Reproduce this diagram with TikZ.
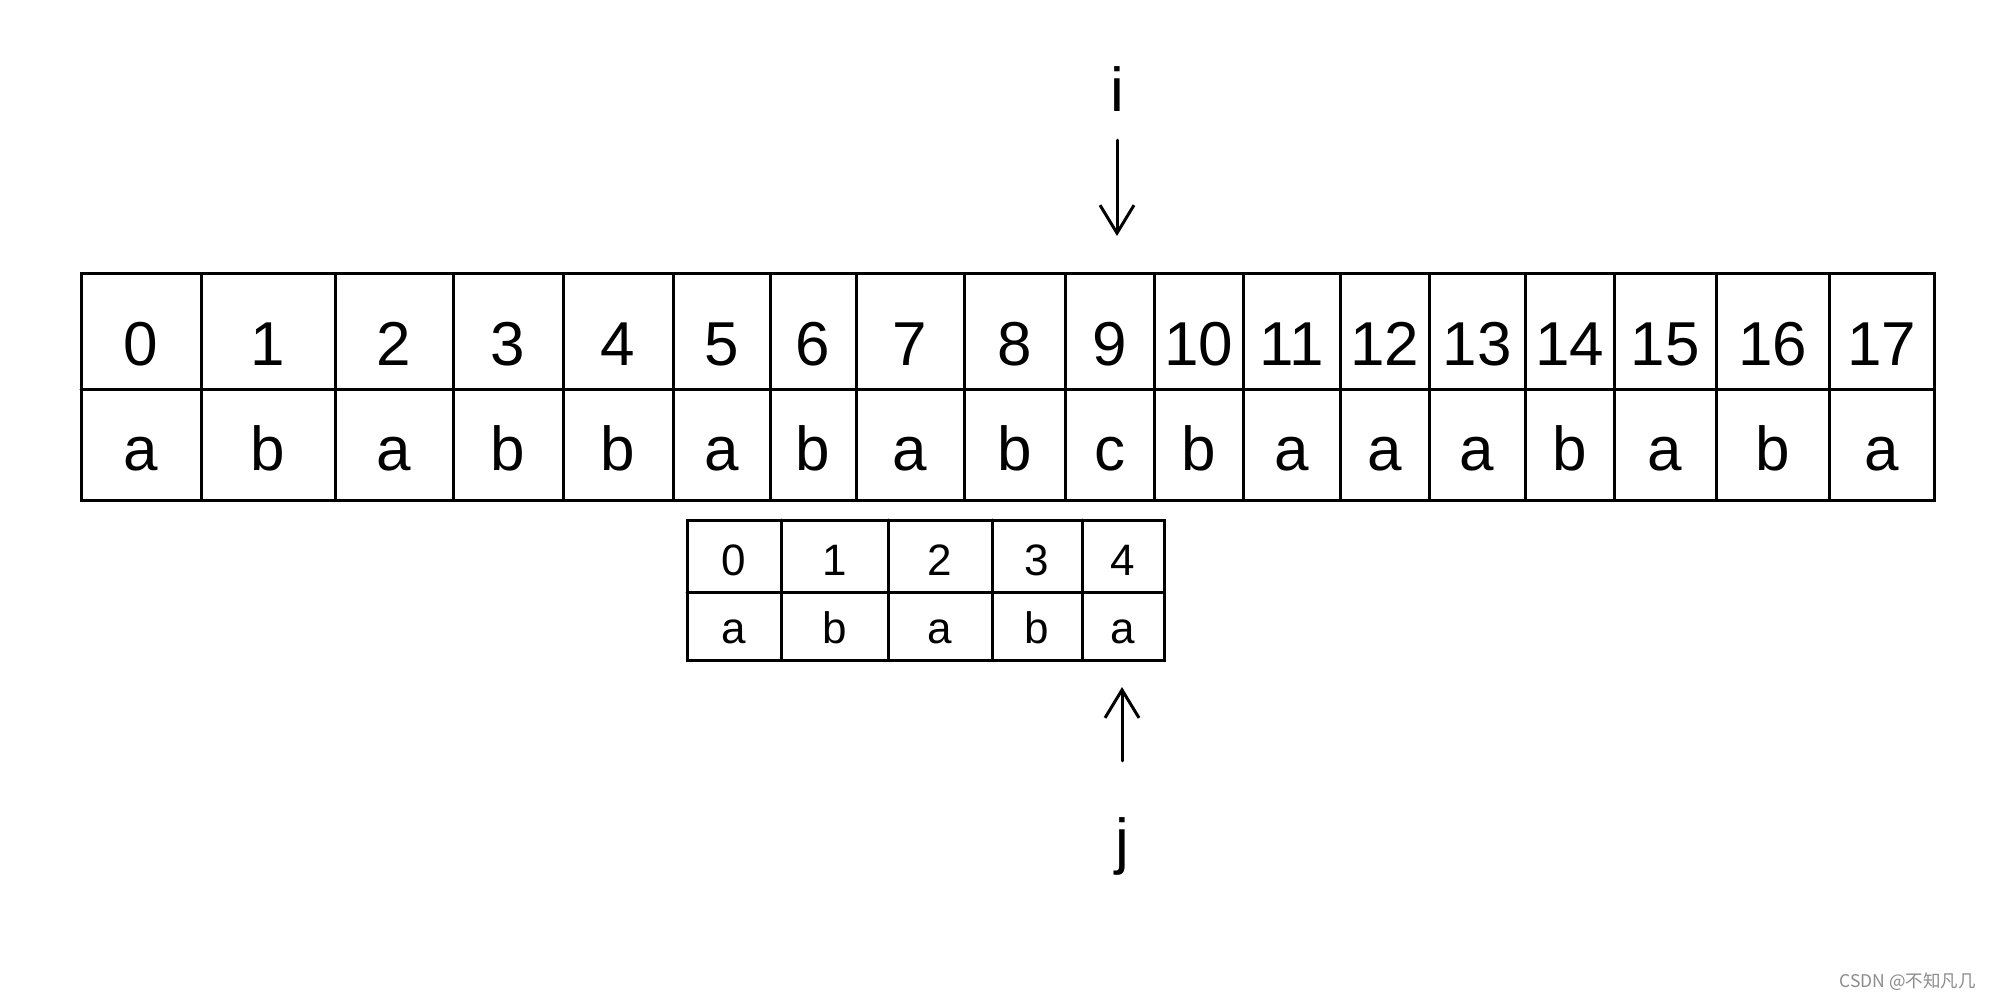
\documentclass[tikz,border=0pt]{standalone}
\usepackage{fontspec}
\setmainfont{Liberation Sans}
\newfontfamily\cjkfont{Noto Sans CJK SC}
\usetikzlibrary{arrows.meta}
\begin{document}
\begin{tikzpicture}[x=1pt,y=-1pt,
  gridline/.style={line width=3pt, line cap=round},
  bigtxt/.style={font=\fontsize{62}{62}\selectfont, inner sep=0pt, anchor=base},
  smalltxt/.style={font=\fontsize{44}{44}\selectfont, inner sep=0pt, anchor=base},
  ptr/.style={line width=3pt, line cap=round, -{Straight Barb[length=28pt,width=34pt,line width=3pt]}},
  wmark/.style={text=black!45, font=\cjkfont\fontsize{17.5}{17.5}\selectfont, inner sep=0pt}
]
\useasboundingbox[fill=white] (0,0) rectangle (1991,1000);

% main table
\draw[gridline] (81,274) rectangle (1934,500);
\draw[gridline] (81,389) -- (1934,389);
\foreach \x in {201,335,453,563,673,770,856,964,1065,1154,1243,1340,1429,1525,1614,1716,1829}
  \draw[gridline] (\x,274) -- (\x,500);
\foreach \l/\r/\n/\c in {81/201/0/a, 201/335/1/b, 335/453/2/a, 453/563/3/b, 563/673/4/b,
  673/770/5/a, 770/856/6/b, 856/964/7/a, 964/1065/8/b, 1065/1154/9/c, 1154/1243/10/b,
  1243/1340/11/a, 1340/1429/12/a, 1429/1525/13/a, 1525/1614/14/b, 1614/1716/15/a,
  1716/1829/16/b, 1829/1934/17/a}{
  \node[bigtxt] (ti\n) at ({(\l+\r)/2},365) {\n};
  \node[bigtxt] (tc\n) at ({(\l+\r)/2},470) {\c};
}

% pattern table
\draw[gridline] (687,520) rectangle (1164,660);
\draw[gridline] (687,592) -- (1164,592);
\foreach \x in {781,888,992,1082}
  \draw[gridline] (\x,520) -- (\x,660);
\foreach \l/\r/\n/\c in {687/781/0/a, 781/888/1/b, 888/992/2/a, 992/1082/3/b, 1082/1164/4/a}{
  \node[smalltxt] (pi\n) at ({(\l+\r)/2},575) {\n};
  \node[smalltxt] (pc\n) at ({(\l+\r)/2},643) {\c};
}

% pointers
\node[bigtxt] (ilbl) at (1117,112) {i};
\coordinate (itip) at (1117,236);
\draw[ptr, shorten <=28pt] (ilbl) -- (itip);

\node[bigtxt] (jlbl) at (1122,862) {j};
\coordinate (jtip) at (1122,687);
\draw[ptr, shorten <=56pt] (jlbl.north) -- (jtip);

\node[wmark, anchor=east] (wm) at (1976,982) {CSDN @不知凡几};
\end{tikzpicture}
\end{document}
